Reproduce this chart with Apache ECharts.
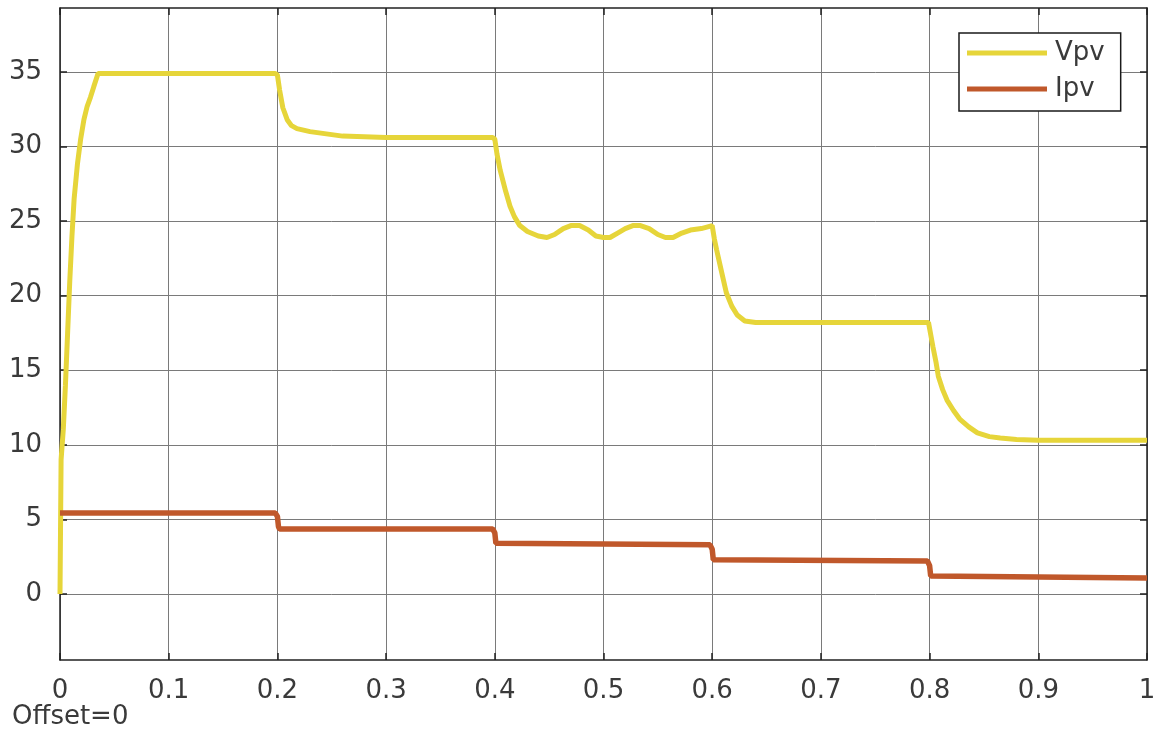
<!DOCTYPE html>
<html>
<head>
<meta charset="utf-8">
<script src="https://cdn.jsdelivr.net/npm/echarts@6/dist/echarts.min.js"></script>
<style>
html,body{margin:0;padding:0;background:#fff;}
#chart{width:1161px;height:747px;}
</style>
</head>
<body>
<div id="chart"></div>
<script>
// Data
const vpvTime = [0,0.001,0.003,0.005,0.007,0.009,0.011,0.013,0.016,0.019,0.022,0.025,0.028,0.031,0.035,0.1,0.198,
  0.2,0.202,0.205,0.209,0.213,0.218,0.23,0.24,0.26,0.3,0.398,
  0.4,0.402,0.405,0.41,0.414,0.418,0.423,0.43,0.44,0.448,0.455,0.463,0.47,0.478,0.486,0.493,0.5,0.506,0.513,0.52,0.527,0.534,0.542,0.55,0.557,0.564,0.572,0.58,0.59,0.6,
  0.602,0.604,0.608,0.613,0.618,0.623,0.63,0.64,0.7,0.799,
  0.803,0.806,0.808,0.812,0.816,0.822,0.828,0.836,0.844,0.855,0.865,0.88,0.9,1];
const vpvValues = [0,9,11,14,17.5,21,24,26.5,28.8,30.5,31.8,32.7,33.3,34,34.9,34.9,34.9,
  34.8,33.8,32.6,31.8,31.4,31.2,31.0,30.9,30.7,30.6,30.6,
  30.5,29.5,28.4,27,26,25.3,24.7,24.3,24.0,23.9,24.1,24.5,24.7,24.7,24.4,24.0,23.9,23.9,24.2,24.5,24.7,24.7,24.5,24.1,23.9,23.9,24.2,24.4,24.5,24.7,
  23.8,23.1,21.8,20.2,19.3,18.7,18.3,18.2,18.2,18.2,
  16.6,15.5,14.6,13.7,13.0,12.3,11.7,11.2,10.8,10.55,10.45,10.35,10.3,10.3];
const ipvTime = [0,0.198,0.2,0.201,0.202,0.398,0.4,0.401,0.402,0.598,0.6,0.601,0.602,0.798,0.8,0.801,0.802,1];
const ipvValues = [5.43,5.43,5.2,4.5,4.36,4.36,4.1,3.4,3.29,3.29,3.0,2.3,2.21,2.21,1.9,1.2,1.07,1.07];
const yTickValues = [0,5,10,15,20,25,30,35];
const seriesNames = ['Vpv','Ipv'];
const footerText = 'Offset=0';

const vpvData = vpvTime.map((t,i)=>[t,vpvValues[i]]);
const ipvData = ipvTime.map((t,i)=>[t,ipvValues[i]]);

const FONT = 'DejaVu Sans';
const TXT = '#3a3a3a';
const Y_MIN = -4.43, Y_MAX = 39.29;
const AX = {color:'#222',width:1.5};

const chart = echarts.init(document.getElementById('chart'), null, {renderer:'canvas'});
chart.setOption({
  animation:false,
  backgroundColor:'#ffffff',
  grid:{left:60,right:14,top:8,bottom:87,containLabel:false},
  graphic:[{type:'text',left:12,top:704,style:{text:footerText,font:'26px "DejaVu Sans"',fill:TXT}}],
  legend:{
    data:seriesNames,
    orient:'vertical',
    left:959, top:33,
    padding:[7,16,9,8],
    itemGap:10,
    itemWidth:80,
    itemHeight:5,
    icon:'rect',
    borderColor:'#1a1a1a',
    borderWidth:1.5,
    backgroundColor:'#ffffff',
    textStyle:{fontFamily:FONT,fontSize:26,color:TXT,padding:[0,0,0,3]}
  },
  xAxis:[{
    type:'value',min:0,max:1,interval:0.1,
    axisLine:{show:true,onZero:false,lineStyle:AX},
    axisTick:{show:true,inside:true,length:7,lineStyle:AX},
    axisLabel:{fontFamily:FONT,fontSize:26,color:TXT,margin:18},
    splitLine:{show:true,lineStyle:{color:'#7a7a7a',width:1}}
  },{
    type:'value',min:0,max:1,interval:0.1,position:'top',
    axisLine:{show:true,onZero:false,lineStyle:AX},
    axisTick:{show:true,inside:true,length:7,lineStyle:AX},
    axisLabel:{show:false},splitLine:{show:false}
  }],
  yAxis:[{
    type:'value',min:Y_MIN,max:Y_MAX,
    axisLine:{show:true,onZero:false,lineStyle:AX},
    axisTick:{show:true,inside:true,length:7,customValues:yTickValues,lineStyle:AX},
    axisLabel:{fontFamily:FONT,fontSize:26,color:TXT,margin:18,customValues:yTickValues},
    splitLine:{show:true,lineStyle:{color:'#7a7a7a',width:1}}
  },{
    type:'value',min:Y_MIN,max:Y_MAX,position:'right',
    axisLine:{show:true,onZero:false,lineStyle:AX},
    axisTick:{show:true,inside:true,length:7,customValues:yTickValues,lineStyle:AX},
    axisLabel:{show:false,customValues:yTickValues},splitLine:{show:false}
  }],
  series:[{
    name:seriesNames[0],type:'line',data:vpvData,showSymbol:false,symbol:'none',
    lineStyle:{color:'#E6D53A',width:5},itemStyle:{color:'#E6D53A'},z:2
  },{
    name:seriesNames[1],type:'line',data:ipvData,showSymbol:false,symbol:'none',
    lineStyle:{color:'#C0582B',width:5.5},itemStyle:{color:'#C0582B'},z:3
  }]
});
</script>
</body>
</html>
